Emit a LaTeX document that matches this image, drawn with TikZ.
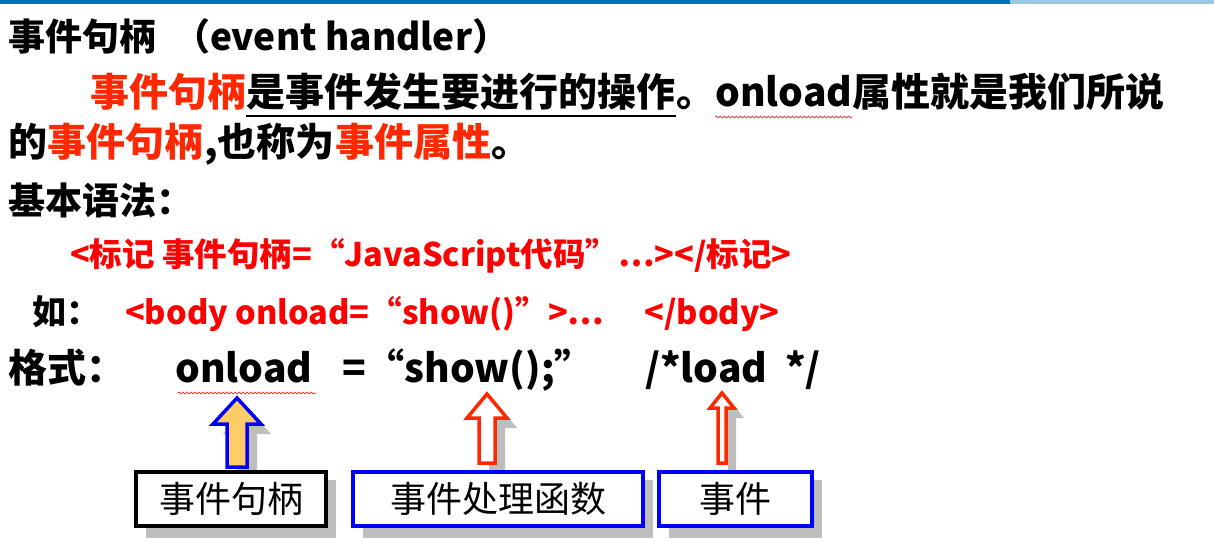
\documentclass[tikz,border=0pt]{standalone}
\usepackage{fontspec}
\setmainfont{Noto Sans CJK SC}
\usetikzlibrary{decorations.pathmorphing}
\definecolor{rd}{RGB}{255,40,0}
\definecolor{tr}{RGB}{255,0,0}
\definecolor{ab}{RGB}{0,0,255}
\definecolor{sh}{RGB}{190,190,190}
\definecolor{org}{RGB}{255,204,102}
\tikzset{
 t/.style={anchor=base west,inner sep=0pt,font=\bfseries\fontsize{39}{39}\selectfont},
 tred/.style={t,text=rd},
 r/.style={anchor=base west,inner sep=0pt,text=tr,font=\bfseries\fontsize{32.5}{32}\selectfont},
 big/.style={anchor=base west,inner sep=0pt,font=\bfseries\fontsize{39}{39}\selectfont},
 lab/.style={draw,line width=4pt,fill=white,minimum height=54pt,inner sep=0pt,font=\fontsize{36}{36}\selectfont},
 wavy/.style={draw=tr,line width=0.6pt,decorate,decoration={snake,amplitude=1pt,segment length=4pt}}
}
\newcommand{\myarrow}[8]{% cx tip headbase bottom shaft head fill draw
 \fill[sh] (#1-#5+10,#3+10) -- (#1-#6+10,#3+10) -- (#1+10,#2+10) -- (#1+#6+10,#3+10) -- (#1+#5+10,#3+10) -- (#1+#5+10,#4+8) -- (#1-#5+10,#4+8) -- cycle;
 \filldraw[fill=#7,draw=#8,line width=3.5pt] (#1-#5,#3) -- (#1-#6,#3) -- (#1,#2) -- (#1+#6,#3) -- (#1+#5,#3) -- (#1+#5,#4) -- (#1-#5,#4) -- cycle;}
\begin{document}
\begin{tikzpicture}[x=1pt,y=-1pt]
\useasboundingbox[fill=white] (0,0) rectangle (1214,541);
\fill[color={rgb,255:red,0;green,112;blue,192}] (0,0) rectangle (1010,4);
\fill[color={rgb,255:red,150;green,200;blue,230}] (1010,0) rectangle (1214,4);
\node[t,font=\bfseries\fontsize{37}{37}\selectfont] (title) at (8,50) {事件句柄\ \ （event handler）};
% line 2
\node[tred] (l2a) at (90,106) {事件句柄};
\node[t] (l2b) at (l2a.base east) {是事件发生要进行的操作};
\node[t] (l2c) at (l2b.base east) {。};
\node[t] (l2d) at (l2c.base east) {onload};
\node[t] (l2e) at (l2d.base east) {属性就是我们所说};
\draw[line width=2pt] ([yshift=-10pt]l2b.base west) -- ([yshift=-10pt]l2b.base east);
\draw[wavy] ([yshift=-11pt]l2d.base west) -- ([yshift=-11pt]l2d.base east);
% line 3
\node[t] (l3a) at (8,156) {的};
\node[tred] (l3b) at (l3a.base east) {事件句柄};
\node[t] (l3c) at (l3b.base east) {,也称为};
\node[tred] (l3d) at (l3c.base east) {事件属性};
\node[t] (l3e) at (l3d.base east) {。};
\node[t,font=\bfseries\fontsize{37}{37}\selectfont] (syn) at (8,214) {基本语法：};
\node[r] (s1) at (70,266) {<标记 事件句柄=“JavaScript代码”…></标记>};
\node[t,font=\bfseries\fontsize{34}{34}\selectfont] (ru) at (32,324) {如：};
\node[r] (ex) at (125,324) {<body onload=“show()”>…\hspace{40pt}</body>};
\node[t] (fmt) at (8,382) {格式：};
\node[big] (f1) at (175,382) {onload};
\node[big] (f2) at (342,382) {=“show();”};
\node[big] (f3) at (645,382) {/*load\ \ */};
\draw[wavy] (178,393) -- (316,393);
% arrows
\myarrow{237}{398}{424}{467}{10}{24}{org}{ab}
\myarrow{487}{394}{418}{463}{8}{20}{white}{rd}
\myarrow{722}{393}{408}{463}{4}{12}{white}{rd}
% boxes
\fill[sh] (146,480) rectangle (336,538);
\fill[sh] (363,480) rectangle (653,538);
\fill[sh] (669,480) rectangle (822,538);
\node[lab,draw=black,minimum width=190pt] (b1) at (231,499) {事件句柄};
\node[lab,draw=ab,minimum width=290pt] (b2) at (498,499) {事件处理函数};
\node[lab,draw=ab,minimum width=153pt] (b3) at (735.5,499) {事件};
\end{tikzpicture}
\end{document}
